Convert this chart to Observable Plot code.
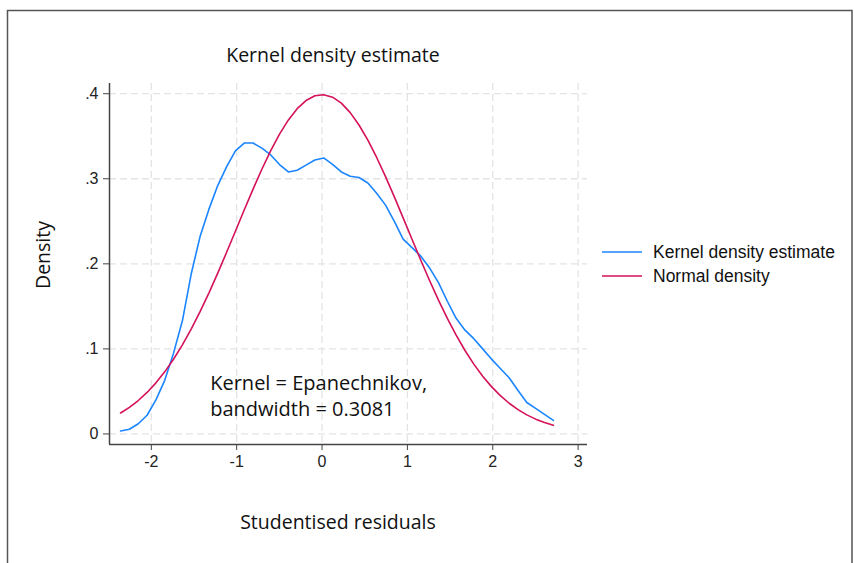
<!DOCTYPE html>
<html>
<head>
<meta charset="utf-8">
<script src="https://cdn.jsdelivr.net/npm/d3@7"></script>
<script src="https://cdn.jsdelivr.net/npm/@observablehq/plot@0.6"></script>
<style>
  body { margin: 0; background: #fff; }
  #chart svg { display: block; }
</style>
</head>
<body>
<div id="chart"></div>
<script>
// ---- data ----
const xs = [-2.36, -2.257, -2.153, -2.05, -1.946, -1.843, -1.74, -1.636, -1.533, -1.429,
            -1.326, -1.222, -1.119, -1.015, -0.912, -0.808, -0.705, -0.601, -0.498, -0.394,
            -0.291, -0.188, -0.084, 0.019, 0.123, 0.226, 0.33, 0.433, 0.537, 0.64,
            0.744, 0.847, 0.95, 1.054, 1.157, 1.261, 1.364, 1.468, 1.571, 1.675,
            1.778, 1.882, 1.985, 2.089, 2.192, 2.296, 2.399, 2.503, 2.606, 2.71];
const kde = [0.0035, 0.0055, 0.012, 0.022, 0.040, 0.063, 0.095, 0.133, 0.188, 0.232,
             0.264, 0.292, 0.314, 0.3327, 0.342, 0.342, 0.336, 0.328, 0.3167, 0.308,
             0.310, 0.316, 0.322, 0.3245, 0.317, 0.308, 0.303, 0.3015, 0.295, 0.283,
             0.269, 0.250, 0.229, 0.219, 0.209, 0.195, 0.178, 0.156, 0.136, 0.122,
             0.112, 0.100, 0.088, 0.077, 0.066, 0.051, 0.037, 0.030, 0.023, 0.0159];
const normal = [0.02463, 0.03125, 0.03930, 0.04879, 0.06006, 0.07299, 0.08780, 0.10464, 0.12320, 0.14372,
                0.16562, 0.18908, 0.21331, 0.23836, 0.26322, 0.28784, 0.31116, 0.33302, 0.35242, 0.36915,
                0.38240, 0.39195, 0.39754, 0.39887, 0.39594, 0.38888, 0.37780, 0.36324, 0.34538, 0.32505,
                0.30249, 0.27869, 0.25406, 0.22892, 0.20428, 0.18014, 0.15736, 0.13582, 0.11614, 0.09810,
                0.08212, 0.06788, 0.05563, 0.04501, 0.03610, 0.02858, 0.02244, 0.01740, 0.01338, 0.01015];
const seriesNames = ["Kernel density estimate", "Normal density"];
const seriesColors = ["#1a85ff", "#d41159"];
const xTicks = [-2, -1, 0, 1, 2, 3];
const xTickLabels = ["-2", "-1", "0", "1", "2", "3"];
const yTicks = [0, 0.1, 0.2, 0.3, 0.4];
const yTickLabels = ["0", ".1", ".2", ".3", ".4"];
const xDomain = [-2.49, 3.11];
const yDomain = [-0.0124, 0.412];
const titleText = "Kernel density estimate";
const xTitle = "Studentised residuals";
const yTitle = "Density";
const noteLines = ["Kernel = Epanechnikov,", "bandwidth = 0.3081"];
const noteAt = {x: -1.31, y: 0.046};

// ---- build table ----
const rows = [];
xs.forEach((x, i) => rows.push({x, y: kde[i], s: seriesNames[0]}));
xs.forEach((x, i) => rows.push({x, y: normal[i], s: seriesNames[1]}));

const W = 854, H = 563;
const mL = 109, mR = 267, mT = 83, mB = 119;
const myriad = "'Open Sans', 'Noto Sans', sans-serif";
const arial = "'Liberation Sans', Arial, sans-serif";

const chart = Plot.plot({
  width: W, height: H,
  marginLeft: mL, marginRight: mR, marginTop: mT, marginBottom: mB,
  style: {fontFamily: arial, fontSize: "16px", background: "#fff", color: "#222", overflow: "visible"},
  x: {domain: xDomain, label: null},
  y: {domain: yDomain, label: null},
  color: {domain: seriesNames, range: seriesColors},
  marks: [
    Plot.gridX(xTicks, {stroke: "#e4e4e4", strokeOpacity: 1, strokeWidth: 1.3, strokeDasharray: "7,4"}),
    Plot.gridY(yTicks, {stroke: "#e4e4e4", strokeOpacity: 1, strokeWidth: 1.3, strokeDasharray: "7,4"}),
    Plot.ruleX([xDomain[0]], {stroke: "#444", strokeWidth: 1.5}),
    Plot.ruleY([yDomain[0]], {stroke: "#444", strokeWidth: 1.5}),
    Plot.axisX(xTicks, {tickSize: 6, tickPadding: 5, stroke: "#444", fill: "#222", fontSize: 16, label: null,
                        tickFormat: d => xTickLabels[xTicks.indexOf(d)]}),
    Plot.axisY(yTicks, {tickSize: 6, tickPadding: 5, stroke: "#444", fill: "#222", fontSize: 16, label: null,
                        tickFormat: d => yTickLabels[yTicks.indexOf(d)]}),
    Plot.line(rows, {x: "x", y: "y", z: "s", stroke: "s", strokeWidth: 1.6}),
    Plot.text([noteLines.join("\n")], {x: () => noteAt.x, y: () => noteAt.y, text: d => d,
      textAnchor: "start", lineAnchor: "middle", lineHeight: 1.3, fontSize: 20, fontFamily: myriad, fill: "#111"})
  ]
});

const svg = d3.select(chart);
// outer frame
svg.append("rect").attr("x", 7.5).attr("y", 10.5).attr("width", 844.5).attr("height", 600)
  .attr("fill", "none").attr("stroke", "#555").attr("stroke-width", 1.5);
// title
svg.append("text").attr("x", 333).attr("y", 54).attr("text-anchor", "middle").attr("dominant-baseline", "central")
  .style("font-family", myriad).style("font-size", "19.5px").attr("fill", "#111").text(titleText);
// x title
svg.append("text").attr("x", 338).attr("y", 521).attr("text-anchor", "middle").attr("dominant-baseline", "central")
  .style("font-family", myriad).style("font-size", "19.5px").attr("fill", "#111").text(xTitle);
// y title
svg.append("text").attr("transform", "translate(42,255) rotate(-90)").attr("text-anchor", "middle").attr("dominant-baseline", "central")
  .style("font-family", myriad).style("font-size", "19.5px").attr("fill", "#111").text(yTitle);
// legend
const lg = svg.append("g");
seriesNames.forEach((name, i) => {
  const cy = 252 + i * 24;
  lg.append("line").attr("x1", 602).attr("x2", 642).attr("y1", cy).attr("y2", cy)
    .attr("stroke", seriesColors[i]).attr("stroke-width", 1.6);
  lg.append("text").attr("x", 653).attr("y", cy).attr("text-anchor", "start").attr("dominant-baseline", "central")
    .style("font-family", arial).style("font-size", "17.5px").attr("fill", "#111").text(name);
});

document.getElementById("chart").appendChild(chart);
</script>
</body>
</html>
